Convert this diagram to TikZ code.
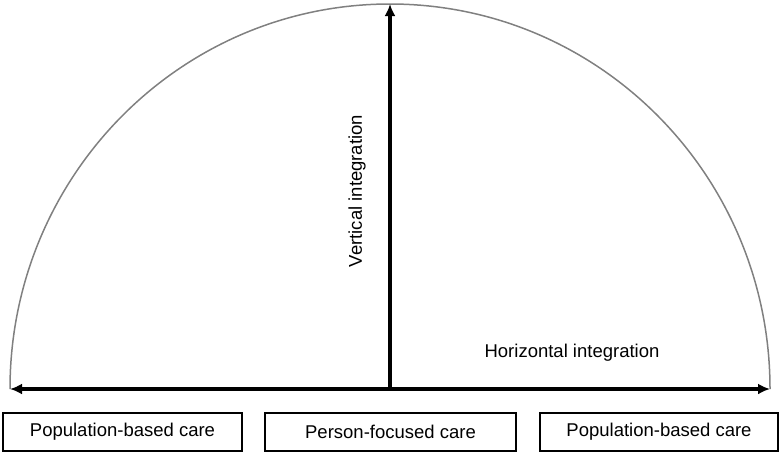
\documentclass[tikz,border=0pt]{standalone}
\usepackage{fontspec}
\setmainfont{Liberation Sans}
\usetikzlibrary{arrows.meta}
\tikzset{
  carebox/.style={draw, line width=1.6pt, inner sep=0pt, minimum height=38pt,
    font=\fontsize{18.5}{22}\selectfont},
  axislabel/.style={font=\fontsize{18.5}{22}\selectfont},
  axis/.style={line width=3.4pt, -{Latex[length=12pt,width=11pt]}},
}
\begin{document}
\begin{tikzpicture}[x=1pt,y=-1pt]
  \useasboundingbox (0,0) rectangle (783,456);
  \draw
    (390,389) coordinate (o)
    (10,389) coordinate (l)
    (770,389) coordinate (r)
    (390,4) coordinate (t);
  % half circle
  \draw[gray, line width=1.5pt] (l) arc[start angle=180, end angle=360, x radius=380, y radius=385];
  \begin{scope}
    \draw[axis, {Latex[length=12pt,width=11pt]}-{Latex[length=12pt,width=11pt]}] (l) -- (r);
    \draw[axis] (o) -- (t);
  \end{scope}
  \node[axislabel, rotate=90] (vert) at (357,191) {Vertical integration};
  \node[axislabel] (horiz) at (572,353) {Horizontal integration};
  \node[carebox, minimum width=239pt] (popl) at (122.5,432) {Population-based care};
  \node[carebox, minimum width=251pt] (pers) at (390.5,432) {Person-focused care};
  \node[carebox, minimum width=238pt] (popr) at (659,432) {Population-based care};
\end{tikzpicture}
\end{document}
